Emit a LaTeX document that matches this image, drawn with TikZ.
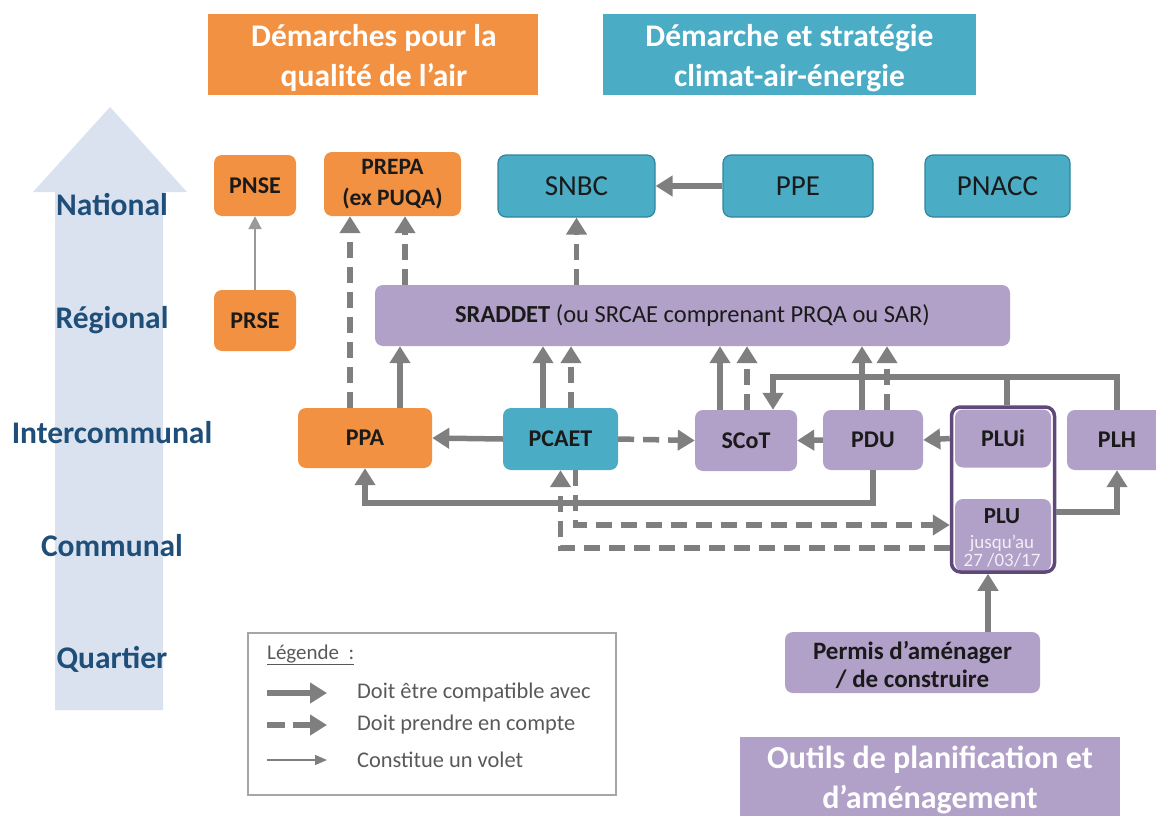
\documentclass[tikz,border=0pt]{standalone}
\usepackage{fontspec}
\setmainfont{Carlito}
\usetikzlibrary{arrows.meta,calc}
\definecolor{orng}{HTML}{F29141}
\definecolor{teal1}{HTML}{4BACC6}
\definecolor{tealb}{HTML}{31859C}
\definecolor{purp}{HTML}{B1A0C7}
\definecolor{purpd}{HTML}{60497A}
\definecolor{purpt}{HTML}{F2EEF6}
\definecolor{arr}{HTML}{7F7F7F}
\definecolor{thinarr}{HTML}{9A9A9A}
\definecolor{bigarr}{HTML}{DAE2F0}
\definecolor{lvl}{HTML}{1F4E79}
\definecolor{txt}{HTML}{1A1A1A}
\definecolor{legtxt}{HTML}{595959}
\definecolor{legbox}{HTML}{A6A6A6}
\begin{document}
\begin{tikzpicture}[x=1pt,y=-1pt,
  box/.style={rounded corners=8pt, inner sep=0pt, align=center, text=txt},
  obox/.style={box, fill=orng, font=\fontsize{24}{27}\selectfont\bfseries},
  tbox/.style={box, fill=teal1, draw=tealb, line width=1.2pt, font=\fontsize{29}{32}\selectfont},
  pbox/.style={box, fill=purp, font=\fontsize{24}{27}\selectfont\bfseries},
  hdr/.style={inner sep=0pt},
  hdrt/.style={inner sep=0pt, align=center, text=white, font=\fontsize{31.5}{40}\selectfont\bfseries},
  lvlab/.style={inner sep=0pt, text=lvl, font=\fontsize{31.5}{34}\selectfont\bfseries},
  legt/.style={inner sep=0pt, anchor=west, text=legtxt, font=\fontsize{22.4}{25}\selectfont},
  comp/.style={draw=arr, line width=5.5pt, -{Triangle[width=20pt,length=17pt]}},
  compl/.style={draw=arr, line width=5.5pt},
  prise/.style={draw=arr, line width=5.5pt, dash pattern=on 16pt off 9pt, -{Triangle[width=20pt,length=17pt]}},
  volet/.style={draw=thinarr, line width=2pt, -{Triangle[width=13pt,length=13pt]}}
]
\useasboundingbox (0,0) rectangle (1156,816);
\clip (0,0) rectangle (1156,816);

% big level arrow
\fill[bigarr] (55,710) -- (55,192) -- (33,192) -- (110,107) -- (187,192) -- (163,192) -- (163,710) -- cycle;
\node[lvlab] (lnat) at (112,205) {National};
\node[lvlab] (lreg) at (112,320) {Régional};
\node[lvlab] (lint) at (112,433) {Intercommunal};
\node[lvlab] (lcom) at (112,546) {Communal};
\node[lvlab] (lqua) at (112,659) {Quartier};

% headers
\node[hdr, fill=orng, minimum width=330, minimum height=81] (hair) at (373,54.5) {};
\node[hdrt] (hairt) at (374,58) {Démarches pour la\\qualité de l’air};
\node[hdr, fill=teal1, minimum width=373, minimum height=81] (hclim) at (789.5,54.5) {};
\node[hdrt] (hclimt) at (789.5,58) {Démarche et stratégie\\climat-air-énergie};

% national
\node[obox, minimum width=82, minimum height=61] (pnse) at (255,185.5) {PNSE};
\node[obox, minimum width=137, minimum height=64, font=\fontsize{23.5}{31}\selectfont\bfseries] (prepa) at (392.5,184) {PREPA\\(ex PUQA)};
\node[tbox, minimum width=157, minimum height=62] (snbc) at (576.5,186) {SNBC};
\node[tbox, minimum width=150, minimum height=62] (ppe) at (798,186) {PPE};
\node[tbox, minimum width=145, minimum height=62] (pnacc) at (997.5,186) {PNACC};

% regional
\node[obox, minimum width=82, minimum height=61] (prse) at (255,320.5) {PRSE};
\node[pbox, minimum width=635, minimum height=61, font=\fontsize{24.5}{27}\selectfont] (sraddet) at (692.5,315.5) {\textbf{SRADDET} (ou SRCAE comprenant PRQA ou SAR)};

% intercommunal
\node[obox, minimum width=134, minimum height=60] (ppa) at (365,438) {PPA};
\node[box, fill=teal1, minimum width=115, minimum height=62, font=\fontsize{24}{27}\selectfont\bfseries] (pcaet) at (560.5,439) {PCAET};
\node[pbox, minimum width=102, minimum height=61] (scot) at (746,440.5) {SCoT};
\node[pbox, minimum width=100, minimum height=60] (pdu) at (873,440) {PDU};
\node[pbox, minimum width=100, minimum height=60] (plh) at (1117,440) {PLH};

% PLUi / PLU group
\node[box, fill=white, minimum width=101, minimum height=163] (plubg) at (1003,489.5) {};
\node[pbox, minimum width=96, minimum height=58] (plui) at (1003,438.5) {PLUi};
\node[box, fill=purp, minimum width=96, minimum height=72] (plu) at (1003,535) {};
\node[inner sep=0pt, text=txt, font=\fontsize{23}{25}\selectfont\bfseries] (plut) at (1002,516) {PLU};
\node[inner sep=0pt, align=center, text=purpt, font=\fontsize{19}{18}\selectfont] (plud) at (1002,551) {jusqu’au\\27 /03/17};
\node[draw=purpd, line width=3.5pt, rounded corners=9pt, inner sep=0pt, minimum width=103, minimum height=165] (plubox) at (1003,489.5) {};

% quartier
\node[pbox, minimum width=255, minimum height=61, font=\fontsize{25}{28}\selectfont\bfseries] (permis) at (912.5,662.5) {};
\node[inner sep=0pt, align=center, text=txt, font=\fontsize{25}{28}\selectfont\bfseries] (permist) at (912.5,665) {Permis d’aménager\\/ de construire};

% footer
\node[hdr, fill=purp, minimum width=380, minimum height=92] (outils) at (930,783) {};
\node[hdrt, font=\fontsize{32}{40}\selectfont\bfseries] (outilst) at (930,780) {Outils de planification et\\d’aménagement};

% legend
\node[draw=legbox, line width=1.5pt, minimum width=368, minimum height=162, inner sep=0pt] (leg) at (432,714) {};
\node[legt, font=\fontsize{21}{24}\selectfont] (legh) at (267,655) {\underline{Légende~~:}};
\node[legt] (leg1) at (357,693) {Doit être compatible avec};
\node[legt] (leg2) at (357,725) {Doit prendre en compte};
\node[legt] (leg3) at (357,760) {Constitue un volet};
\coordinate (la1) at (267,693); \coordinate (lb1) at (327,693);
\coordinate (la2) at (267,725); \coordinate (lb2) at (327,725);
\coordinate (la3) at (267,760); \coordinate (lb3) at (327,760);
\draw[comp] (la1) -- (lb1);
\draw[prise, dash pattern=on 18pt off 8pt] (la2) -- (lb2);
\draw[draw=arr, line width=1.5pt, -{Triangle[width=10pt,length=12pt]}] (la3) -- (lb3);

% helper levels
\coordinate (ytop) at (0,377);
\coordinate (ybot) at (0,503);
\coordinate (yd1) at (0,525);
\coordinate (yd2) at (0,548);
\coordinate (yplh) at (0,512);

% connectors
\draw[volet] (prse.north) -- (pnse.south);
\draw[prise] ([xshift=-15pt]ppa.north) -- ([xshift=-15pt]ppa.north |- prepa.south);
\draw[comp] ([xshift=35pt]ppa.north) -- ([xshift=35pt]ppa.north |- sraddet.south);
\draw[prise] ([xshift=12.5pt]prepa.south |- sraddet.north) -- ([xshift=12.5pt]prepa.south);
\draw[prise] (snbc.south |- sraddet.north) -- (snbc.south);
\draw[comp] (ppe.west) -- (snbc.east);

\draw[comp] ([xshift=-17.5pt]pcaet.north) -- ([xshift=-17.5pt]pcaet.north |- sraddet.south);
\draw[prise] ([xshift=10.5pt]pcaet.north) -- ([xshift=10.5pt]pcaet.north |- sraddet.south);
\draw[comp] ([xshift=-26pt]scot.north) -- ([xshift=-26pt]scot.north |- sraddet.south);
\draw[prise] ([xshift=1pt]scot.north) -- ([xshift=1pt]scot.north |- sraddet.south);
\draw[comp] ([xshift=-11pt]pdu.north) -- ([xshift=-11pt]pdu.north |- sraddet.south);
\draw[prise] ([xshift=14pt]pdu.north) -- ([xshift=14pt]pdu.north |- sraddet.south);

\draw[comp] (pcaet.west) -- (ppa.east);
\draw[prise] (pcaet.east) -- (scot.west);
\draw[comp] (pdu.west) -- (scot.east);
\draw[comp] (plui.west -| plubox.west) -- (pdu.east);

% PLUi and PLH -> SCoT
\draw[compl] ([xshift=4pt]plubox.north) -- ([xshift=4pt]plubox.north |- ytop);
\draw[comp] (plh.north) -- (plh.north |- ytop) -- ([xshift=27pt]scot.north |- ytop) -- ([xshift=27pt]scot.north);

% PDU -> PPA
\draw[comp] (pdu.south) -- (pdu.south |- ybot) -- (ppa.south |- ybot) -- (ppa.south);

% PLU <-> PCAET dashed
\draw[prise] (plubox.west |- yd2) -- (pcaet.south |- yd2) -- (pcaet.south);
\draw[prise] ([xshift=15pt]pcaet.south) -- ([xshift=15pt]pcaet.south |- yd1) -- (plubox.west |- yd1);

% PLU -> PLH
\draw[comp] (plubox.east |- yplh) -- (plh.south |- yplh) -- (plh.south);

% Permis -> PLU
\draw[comp] ([xshift=-15pt]plubox.south |- permis.north) -- ([xshift=-15pt]plubox.south);
\end{tikzpicture}
\end{document}
